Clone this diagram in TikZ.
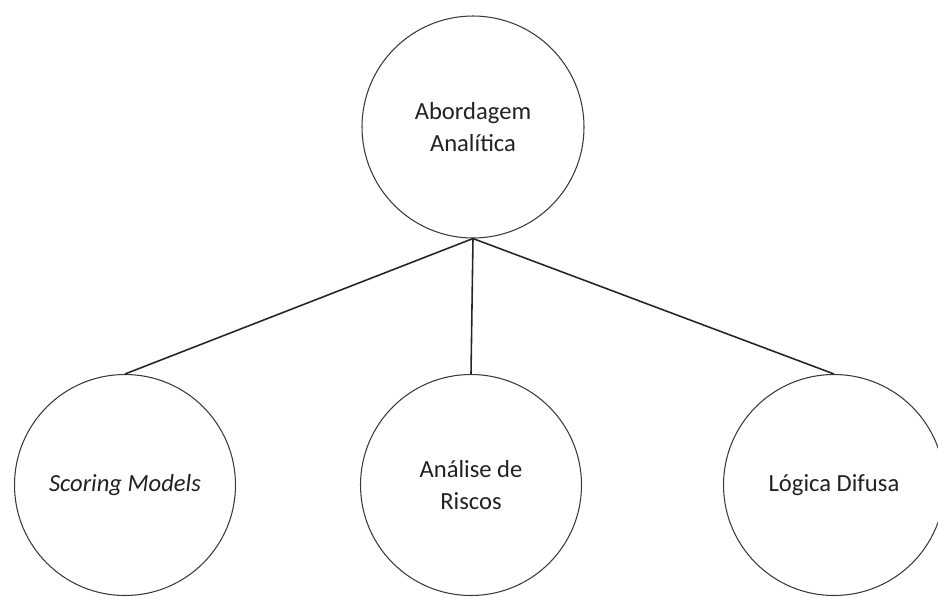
\documentclass[tikz,border=0pt]{standalone}
\usepackage{fontspec}
\setmainfont{Carlito}
\usetikzlibrary{positioning}
\definecolor{txt}{HTML}{222222}
\definecolor{edge}{HTML}{3A3A3A}

\begin{document}
\begin{tikzpicture}[
  topic/.style={circle, draw=edge, line width=0.6pt, fill=white, minimum size=4.42cm, inner sep=0pt, align=center, text=txt, font=\fontsize{14}{18}\selectfont},
  link/.style={line width=0.9pt, color=black!85},
]
\useasboundingbox (0,0) rectangle (18.76,-11.94);

\node[topic, minimum size=4.44cm] (root) at (9.46, -2.54) {Abordagem\\Analítica};

\node[topic] (score) at (2.50, -9.70) {\textit{Scoring Models}};
\node[topic] (risk) at (9.42, -9.70) {Análise de\\Riscos};
\node[topic] (fuzzy) at (16.68, -9.70) {Lógica Difusa};

\draw[link] (root.south) -- (score.north);
\draw[link] (root.south) -- (risk.north);
\draw[link] (root.south) -- (fuzzy.north);

\end{tikzpicture}
\end{document}
